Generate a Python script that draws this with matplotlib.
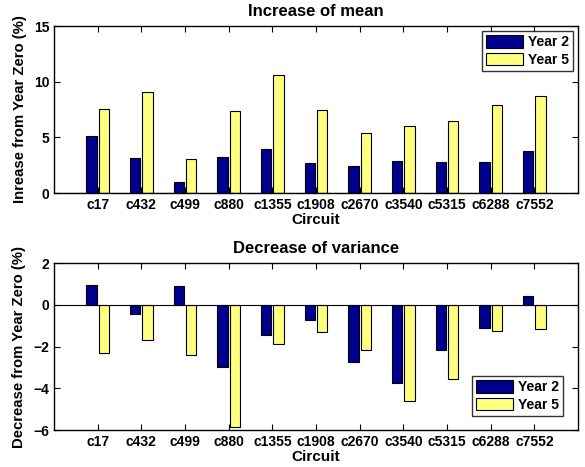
import numpy as np
import matplotlib.pyplot as plt

plt.rcParams['font.family'] = ['Liberation Sans', 'DejaVu Sans']
plt.rcParams['font.weight'] = 'bold'

circuits = ["c17", "c432", "c499", "c880", "c1355", "c1908", "c2670",
            "c3540", "c5315", "c6288", "c7552"]
mean_y2 = [5.08, 3.16, 1.02, 3.25, 3.94, 2.67, 2.43, 2.89, 2.77, 2.80, 3.76]
mean_y5 = [7.57, 9.11, 3.04, 7.39, 10.61, 7.48, 5.38, 6.01, 6.43, 7.87, 8.72]
var_y2 = [0.93, -0.46, 0.90, -2.96, -1.47, -0.72, -2.72, -3.76, -2.18, -1.09, 0.42]
var_y5 = [-2.32, -1.68, -2.43, -5.85, -1.87, -1.30, -2.18, -4.61, -3.54, -1.28, -1.17]

navy = "#00008f"
yellow = "#ffff80"

fig = plt.figure(figsize=(5.85, 4.67), dpi=100)
ax1 = fig.add_axes([0.0923, 0.5867, 0.8957, 0.3576])
ax2 = fig.add_axes([0.0923, 0.0792, 0.8957, 0.3576])

x = np.arange(1, len(circuits) + 1)
w = 0.24

def draw(ax, y2, y5, title, ylabel, ylim, yticks, loc, anchor):
    ax.bar(x - 0.14, y2, w, color=navy, edgecolor="black", linewidth=0.8, label="Year 2")
    ax.bar(x + 0.14, y5, w, color=yellow, edgecolor="black", linewidth=0.8, label="Year 5")
    ax.axhline(0, color="black", linewidth=0.8)
    ax.set_xlim(0, 12)
    ax.set_ylim(*ylim)
    ax.set_yticks(yticks)
    ax.set_xticks(x)
    ax.set_xticklabels(circuits)
    ax.tick_params(direction="in", top=True, right=True, labelsize=10, length=4)
    for s in ax.spines.values():
        s.set_linewidth(1.0)
    ax.set_title(title, fontsize=12, fontweight="bold", pad=7)
    ax.set_ylabel(ylabel, fontsize=10.7, fontweight="bold", labelpad=5)
    ax.set_xlabel("Circuit", fontsize=11, fontweight="bold", labelpad=1)
    leg = ax.legend(loc=loc, bbox_to_anchor=anchor, fontsize=10, fancybox=False,
                    edgecolor="black", handlelength=2.7, handleheight=1.0,
                    borderaxespad=0, borderpad=0.3, labelspacing=0.25,
                    handletextpad=0.3)
    leg.get_frame().set_linewidth(1.0)

draw(ax1, mean_y2, mean_y5, "Increase of mean", "Inrease from Year Zero (%)",
     (0, 15), [0, 5, 10, 15], "upper right", (0.99, 0.97))
draw(ax2, var_y2, var_y5, "Decrease of variance", "Decrease from Year Zero (%)",
     (-6, 2), [-6, -4, -2, 0, 2], "lower right", (0.971, 0.084))

fig.savefig("out.png", dpi=100)
